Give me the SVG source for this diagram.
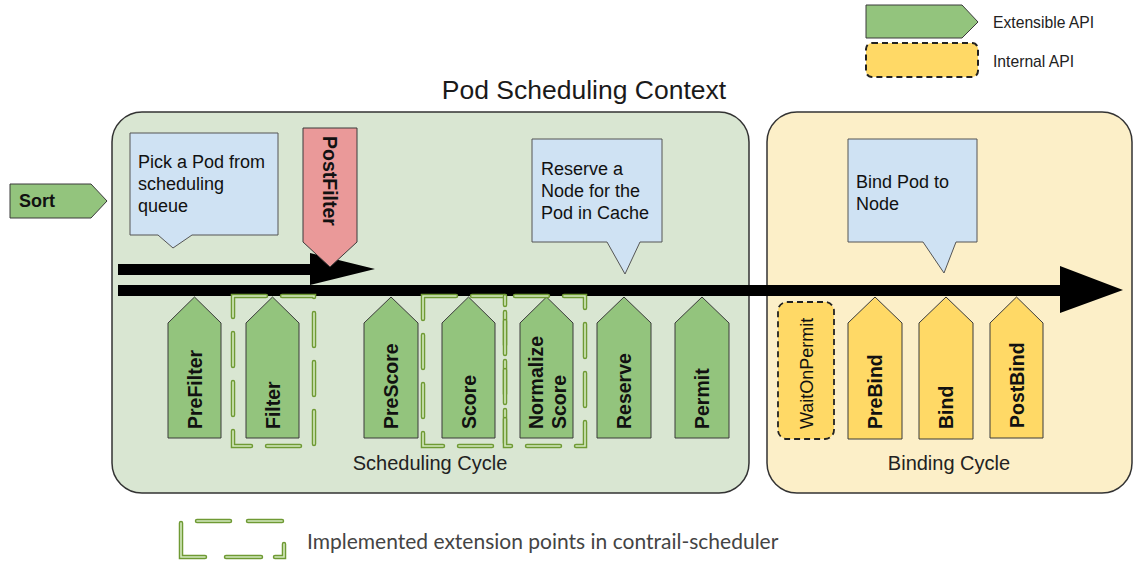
<svg xmlns="http://www.w3.org/2000/svg" width="1137" height="563" viewBox="0 0 1137 563">
<style>
text{font-family:"Liberation Sans",Arial,sans-serif;fill:#111}
.ext{fill:#93c47d;stroke:#3a3a3a;stroke-width:1}
.yel{fill:#ffd966;stroke:#3a3a3a;stroke-width:1}
.call{fill:#cfe2f3;stroke:#555;stroke-width:1}
.bl{font-weight:bold;font-size:19.5px}
.cl{font-size:18px}
.cyc{font-size:20px;fill:#222}
.dg1{fill:none;stroke:#6f9a34;stroke-width:4.5;stroke-dasharray:33 16;stroke-linecap:round}
.dg2{fill:none;stroke:#d5eac0;stroke-width:1.6;stroke-dasharray:33 16;stroke-linecap:round}
.lg1{fill:none;stroke:#6f9a34;stroke-width:4.5;stroke-linecap:round}
.lg2{fill:none;stroke:#d5eac0;stroke-width:1.6;stroke-linecap:round}
</style>

<g id="legend-extensible">
<polygon class="ext" points="866,5 962,5 978,22 962,38 866,38"/>
<text x="993" y="28" style="font-size:15.7px;fill:#222">Extensible API</text>
</g>
<g id="legend-internal">
<rect x="866" y="43" width="112" height="34" rx="6" fill="#ffd966" stroke="#222" stroke-width="2" stroke-dasharray="6 4"/>
<text x="993" y="67" style="font-size:15.7px;fill:#222">Internal API</text>
</g>

<text x="584" y="99" text-anchor="middle" style="font-size:26.5px;fill:#1a1a1a">Pod Scheduling Context</text>

<g id="scheduling-cycle">
<rect x="112" y="112" width="637" height="381" rx="30" fill="#d9e6d2" stroke="#333" stroke-width="1.5"/>
<text class="cyc" x="430" y="470" text-anchor="middle">Scheduling Cycle</text>
</g>
<g id="binding-cycle">
<rect x="767" y="112" width="365" height="381" rx="30" fill="#fcefc8" stroke="#333" stroke-width="1.5"/>
<text class="cyc" x="949" y="470" text-anchor="middle">Binding Cycle</text>
</g>

<g id="sort">
<polygon class="ext" points="10,184 91,184 107,201 91,218 10,218"/>
<text x="19" y="207" style="font-size:18px;font-weight:bold">Sort</text>
</g>

<g id="callout-pick">
<path class="call" d="M130,133 H278 V235 H192 L173,248 L158,235 H130 Z"/>
<text class="cl" x="138" y="168">Pick a Pod from</text>
<text class="cl" x="138" y="190">scheduling</text>
<text class="cl" x="138" y="212">queue</text>
</g>

<g id="callout-reserve">
<path class="call" d="M532,139 H662 V242 H640 L625,274 L607,242 H532 Z"/>
<text class="cl" x="541" y="175">Reserve a</text>
<text class="cl" x="541" y="197">Node for the</text>
<text class="cl" x="541" y="219">Pod in Cache</text>
</g>

<g id="callout-bind">
<path class="call" d="M848,139 H977 V242 H956 L944,273 L923,242 H848 Z"/>
<text class="cl" x="856" y="188">Bind Pod to</text>
<text class="cl" x="856" y="210">Node</text>
</g>

<g id="connectors">
<polygon fill="#000" points="118,264 310,264 310,253 375,269 310,285 310,275 118,275"/>
<polygon fill="#000" points="118,285 1060,285 1060,266 1123,290 1060,313 1060,296 118,296"/>
</g>

<g id="postfilter">
<polygon fill="#ea9999" stroke="#3a3a3a" stroke-width="1" points="303,128 357,128 357,242 330,267 303,242"/>
<text class="bl" transform="translate(323,136) rotate(90)">PostFilter</text>
</g>

<g id="prefilter">
<polygon class="ext" points="168,323 194.5,297 221,323 221,438 168,438"/>
<text class="bl" transform="translate(201.5,429) rotate(-90)">PreFilter</text>
</g>
<g id="filter">
<polygon class="ext" points="246,323 272.5,297 299,323 299,438 246,438"/>
<text class="bl" transform="translate(279.5,429) rotate(-90)">Filter</text>
</g>
<g id="prescore">
<polygon class="ext" points="364,323 391,297 418,323 418,438 364,438"/>
<text class="bl" transform="translate(398,429) rotate(-90)">PreScore</text>
</g>
<g id="score">
<polygon class="ext" points="442,323 468.5,297 495,323 495,438 442,438"/>
<text class="bl" transform="translate(475.5,429) rotate(-90)">Score</text>
</g>
<g id="normalize-score">
<polygon class="ext" points="520,323 546.5,297 573,323 573,438 520,438"/>
<text class="bl" transform="translate(542.5,429) rotate(-90)"><tspan x="0" y="0">Normalize</tspan><tspan x="0" y="23.5">Score</tspan></text>
</g>
<g id="reserve">
<polygon class="ext" points="597,323 624,297 651,323 651,438 597,438"/>
<text class="bl" transform="translate(631,429) rotate(-90)">Reserve</text>
</g>
<g id="permit">
<polygon class="ext" points="675,323 702,297 729,323 729,438 675,438"/>
<text class="bl" transform="translate(709,429) rotate(-90)">Permit</text>
</g>

<g id="waitonpermit">
<rect x="778" y="302" width="56" height="137" rx="9" fill="#ffd966" stroke="#222" stroke-width="1.8" stroke-dasharray="6 4"/>
<text transform="translate(812.5,429) rotate(-90)" style="font-size:18px">WaitOnPermit</text>
</g>
<g id="prebind">
<polygon class="yel" points="848,323 875,297 902,323 902,439 848,439"/>
<text class="bl" transform="translate(882,429) rotate(-90)">PreBind</text>
</g>
<g id="bind">
<polygon class="yel" points="919,323 946,297 973,323 973,439 919,439"/>
<text class="bl" transform="translate(953,429) rotate(-90)">Bind</text>
</g>
<g id="postbind">
<polygon class="yel" points="990,323 1016.5,297 1043,323 1043,438 990,438"/>
<text class="bl" transform="translate(1023.5,428) rotate(-90)">PostBind</text>
</g>

<g id="implemented-outlines">
<rect class="dg1" x="233" y="296" width="81" height="150"/>
<rect class="dg2" x="233" y="296" width="81" height="150"/>
<rect class="dg1" x="423" y="296" width="82" height="150"/>
<rect class="dg2" x="423" y="296" width="82" height="150"/>
<rect class="dg1" x="505" y="296" width="80" height="150" stroke-dashoffset="-10"/>
<rect class="dg2" x="505" y="296" width="80" height="150" stroke-dashoffset="-10"/>
</g>

<g id="legend-implemented">
<path class="lg1" d="M197,521 H230 M248,521 H282 M181,523 V557 H205 M226,557 H261 M275,557 H284 V544"/>
<path class="lg2" d="M197,521 H230 M248,521 H282 M181,523 V557 H205 M226,557 H261 M275,557 H284 V544"/>
<text x="307" y="549" style="font-family:Lato,'Open Sans',sans-serif;font-size:21px;fill:#444">Implemented extension points in contrail-scheduler</text>
</g>
</svg>
